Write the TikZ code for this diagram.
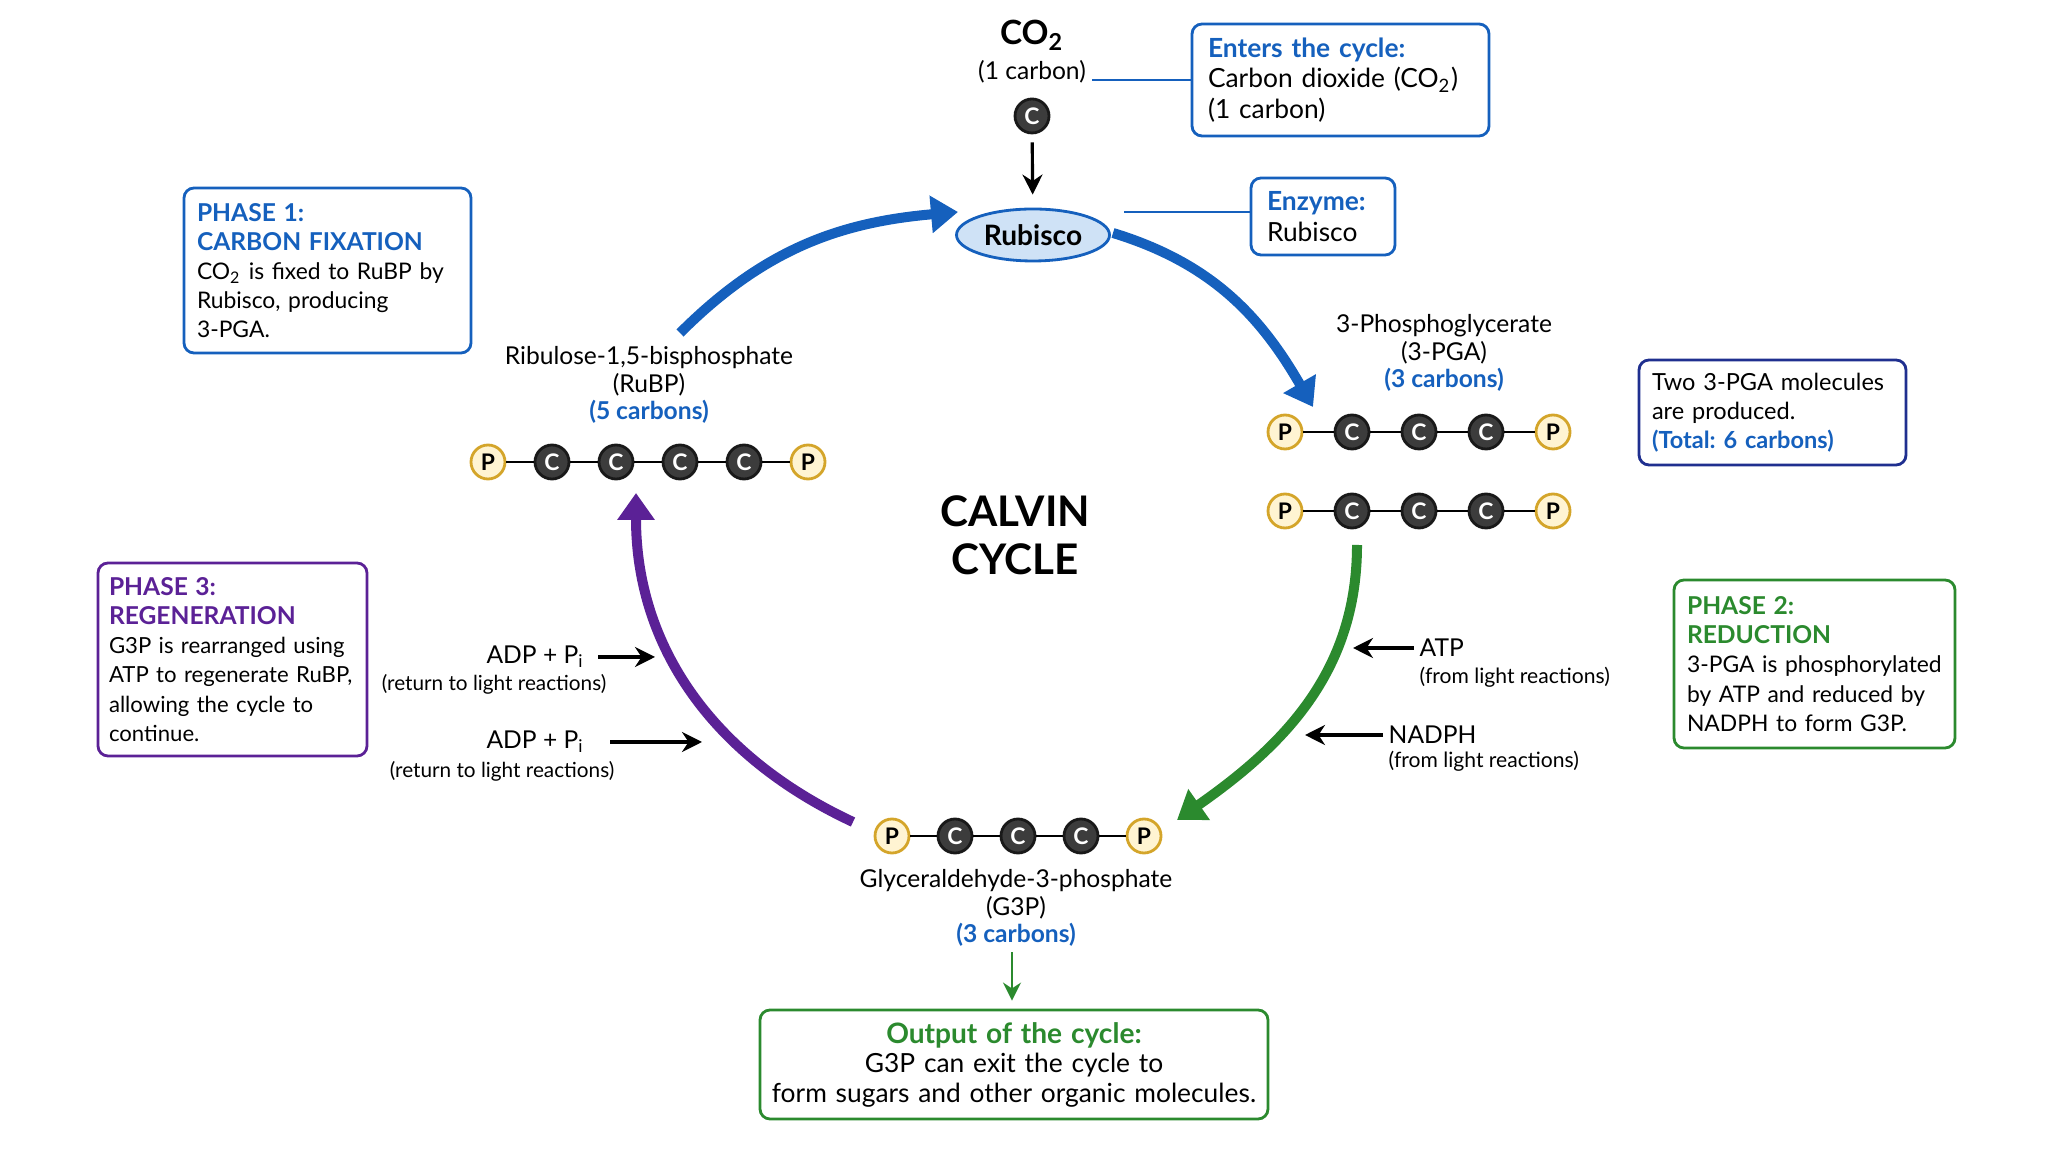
\documentclass[tikz,border=0pt]{standalone}
\usepackage{fontspec}
\setmainfont{Lato}
\usepackage{xcolor}
\usetikzlibrary{arrows.meta,
	shapes.geometric,
	positioning,
	calc}
\frenchspacing
\definecolor{cycblue}{HTML}{1560BD}
\definecolor{cycgreen}{HTML}{2B8A2E}
\definecolor{cycpurple}{HTML}{5B2196}
\definecolor{cycnavy}{HTML}{1F2F8F}
\definecolor{goldline}{HTML}{D4A52A}
\definecolor{goldfill}{HTML}{FFF4D2}
\definecolor{carbfill}{HTML}{3C3C3C}
\definecolor{rubfill}{HTML}{CFE2F6}
\newcommand{\hd}[2]{\textcolor{#1}{\bfseries #2}}
\newcommand{\lblfont}{\fontsize{7}{7.8}\selectfont}
\newcommand{\boxfont}{\fontsize{6.5}{8.3}\selectfont}
\newcommand{\smfont}{\fontsize{6}{7}\selectfont}
\tikzstyle{phos}=[circle, draw=goldline, fill=goldfill, line width=0.8pt, minimum size=3.4mm, inner sep=0, font=\fontsize{6.5}{6.5}\selectfont\bfseries]
\tikzstyle{carb}=[circle, draw=black!90, fill=carbfill, text=white, line width=0.8pt, minimum size=3.4mm, inner sep=0, font=\fontsize{6.5}{6.5}\selectfont\bfseries]
\tikzstyle{bond}=[line width=0.7pt, black]
\tikzstyle{cyc}=[line width=1mm, -{Triangle[length=2.7mm, width=3.6mm]}]
\tikzstyle{feed}=[line width=0.9pt, -{Stealth[length=2mm, width=2mm]}]
\tikzstyle{lnk}=[line width=0.7pt, cycblue]
\tikzstyle{lbl}=[align=center, inner sep=0.5mm, font=\lblfont]
\tikzstyle{infobox}=[draw, rounded corners=1mm, line width=0.8pt, fill=white, align=left, inner xsep=1.3mm, font=\boxfont]

\begin{document}
\begin{tikzpicture}[x=0.1mm, y=0.1mm]
\useasboundingbox (0,0) rectangle (2048,-1152);

% carbon dioxide enters at the top
\node[lbl, font=\fontsize{9.5}{10}\selectfont\bfseries] (co2) at (1032,-35) {CO\textsubscript{2}};
\node[lbl] (onec) at (1032,-72) {(1 carbon)};
\node[carb] (c0) at (1032,-116) {C};
\node[ellipse, draw=cycblue, fill=rubfill, line width=0.8pt, minimum width=15.3mm, minimum height=5.2mm, inner sep=0, font=\fontsize{8}{8}\selectfont\bfseries] (rub) at (1033,-235) {Rubisco};
\draw[feed, shorten <=0.8mm, shorten >=1.3mm] (c0) -- (rub);

\node[infobox, draw=cycblue, text width=26.5mm, minimum height=11.2mm, inner xsep=1.6mm, font=\fontsize{7.5}{8.6}\selectfont] (enter) at (1340.5,-80) {\hd{cycblue}{Enters the cycle:}\\Carbon dioxide (CO\textsubscript{2})\\(1 carbon)};
\node[infobox, draw=cycblue, text width=11.2mm, minimum height=7.7mm, inner xsep=1.6mm, font=\fontsize{7.5}{8.6}\selectfont] (enz) at (1323,-216.5) {\hd{cycblue}{Enzyme:}\\Rubisco};
\draw[lnk] (enter.west) -- (enter.west -| onec.east);
\draw[lnk, shorten >=1.3mm] (enz.west |- 0,-212) -- (rub.east |- 0,-212);

% phase boxes
\node[infobox, draw=cycblue, text width=26.1mm, minimum height=16.5mm] (ph1) at (327.5,-270.5) {\hd{cycblue}{\fontsize{7}{8.3}\selectfont PHASE 1:}\\\hd{cycblue}{\fontsize{7}{8.3}\selectfont CARBON FIXATION}\\CO\textsubscript{2} is fixed to RuBP by\\Rubisco, producing\\3-PGA.};
\node[infobox, draw=cycgreen, text width=25.5mm, minimum height=16.8mm] (ph2) at (1814.5,-664) {\hd{cycgreen}{\fontsize{7}{8.3}\selectfont PHASE 2:}\\\hd{cycgreen}{\fontsize{7}{8.3}\selectfont REDUCTION}\\3-PGA is phosphorylated\\by ATP and reduced by\\NADPH to form G3P.};
\node[infobox, draw=cycpurple, text width=24.7mm, inner xsep=1.1mm, minimum height=19.3mm, font=\fontsize{6.3}{8.3}\selectfont] (ph3) at (232.5,-659.5) {\hd{cycpurple}{\fontsize{7}{8.3}\selectfont PHASE 3:}\\\hd{cycpurple}{\fontsize{7}{8.3}\selectfont REGENERATION}\\G3P is rearranged using\\ATP to regenerate RuBP,\\allowing the cycle to\\continue.};
\node[infobox, draw=cycnavy, text width=24.1mm, minimum height=10.5mm, font=\fontsize{6.7}{8.3}\selectfont] (two) at (1772.5,-412.5) {Two 3-PGA molecules\\are produced.\\\hd{cycblue}{(Total: 6 carbons)}};

% molecules
\node[lbl] (rubp) at (649,-385) {Ribulose-1,5-bisphosphate\\(RuBP)\\\hd{cycblue}{(5 carbons)}};
\foreach \x/\s/\l [count=\i] in {488/phos/P,552/carb/C,616/carb/C,680/carb/C,744/carb/C,808/phos/P}
	\node[\s] (r\i) at (\x,-462) {\l};
\foreach \i [count=\j from 2] in {1,...,5}
	\draw[bond] (r\i) -- (r\j);

\node[lbl] (pga) at (1444,-353) {3-Phosphoglycerate\\(3-PGA)\\\hd{cycblue}{(3 carbons)}};
\foreach \y/\n in {432/a,511/b} {
	\foreach \x/\s/\l [count=\i] in {1285/phos/P,1352/carb/C,1419/carb/C,1486/carb/C,1553/phos/P}
		\node[\s] (\n\i) at (\x,-\y) {\l};
	\foreach \i [count=\j from 2] in {1,...,4}
		\draw[bond] (\n\i) -- (\n\j);
}

\foreach \x/\s/\l [count=\i] in {892/phos/P,955/carb/C,1018/carb/C,1081/carb/C,1144/phos/P}
	\node[\s] (g\i) at (\x,-836) {\l};
\foreach \i [count=\j from 2] in {1,...,4}
	\draw[bond] (g\i) -- (g\j);
\node[lbl] (g3p) at (1016,-908) {Glyceraldehyde-3-phosphate\\(G3P)\\\hd{cycblue}{(3 carbons)}};

\node[align=center, font=\fontsize{12}{13.7}\selectfont\bfseries] (title) at (1015,-535) {CALVIN\\CYCLE};

% the cycle
\coordinate (b1s) at (680,-333);
\coordinate (b1e) at (958,-212);
\coordinate (b2s) at (1113,-233);
\coordinate (b2e) at (1313,-407);
\coordinate (gs) at (1357,-545);
\coordinate (ge) at (1177,-820);
\coordinate (ps) at (853,-822);
\coordinate (pe) at (636,-493);
\draw[cyc, cycblue] (b1s) to[out=45, in=185] (b1e);
\draw[cyc, cycblue] (b2s) to[out=-17, in=120] (b2e);
\draw[cyc, cycgreen] (gs) to[out=-90, in=35] (ge);
\draw[cyc, cycpurple] (ps) to[out=155, in=-90] (pe);

% energy in and out
\node[lbl, anchor=west] (atp) at (1414,-648) {ATP};
\node[lbl, anchor=west, font=\smfont] (atpsrc) at (1414,-677) {(from light reactions)};
\coordinate (atpt) at (1353,-648);
\draw[feed] (atp) -- (atpt);
\node[lbl, anchor=west] (nadph) at (1383,-735) {NADPH};
\node[lbl, anchor=west, font=\smfont] (nadsrc) at (1383,-761) {(from light reactions)};
\coordinate (nadt) at (1305,-735);
\draw[feed] (nadph) -- (nadt);

\node[lbl, anchor=east] (adp1) at (590,-657) {ADP + P\textsubscript{i}};
\node[lbl, font=\fontsize{5.9}{7}\selectfont] (ret1) at (494,-684) {(return to light reactions)};
\coordinate (adp1t) at (655,-657);
\draw[feed, shorten <=0.8mm] (adp1) -- (adp1t);
\node[lbl, anchor=east] (adp2) at (590,-742) {ADP + P\textsubscript{i}};
\node[lbl, font=\fontsize{5.9}{7}\selectfont] (ret2) at (502,-771) {(return to light reactions)};
\coordinate (adp2t) at (702,-742);
\draw[feed, shorten <=2mm] (adp2) -- (adp2t);

% output
\node[infobox, draw=cycgreen, align=center, text width=49mm, inner xsep=0.9mm, minimum height=10.9mm, font=\fontsize{7.5}{8.4}\selectfont] (out) at (1014,-1064.5) {\hd{cycgreen}{\fontsize{8}{8.4}\selectfont Output of the cycle:}\\G3P can exit the cycle to\\form sugars and other organic molecules.};
\draw[line width=0.7pt, cycgreen, -{Stealth[length=1.8mm, width=1.8mm]}, shorten >=0.8mm] (g3p.south -| 1012,0) -- (out.north -| 1012,0);
\end{tikzpicture}
\end{document}
